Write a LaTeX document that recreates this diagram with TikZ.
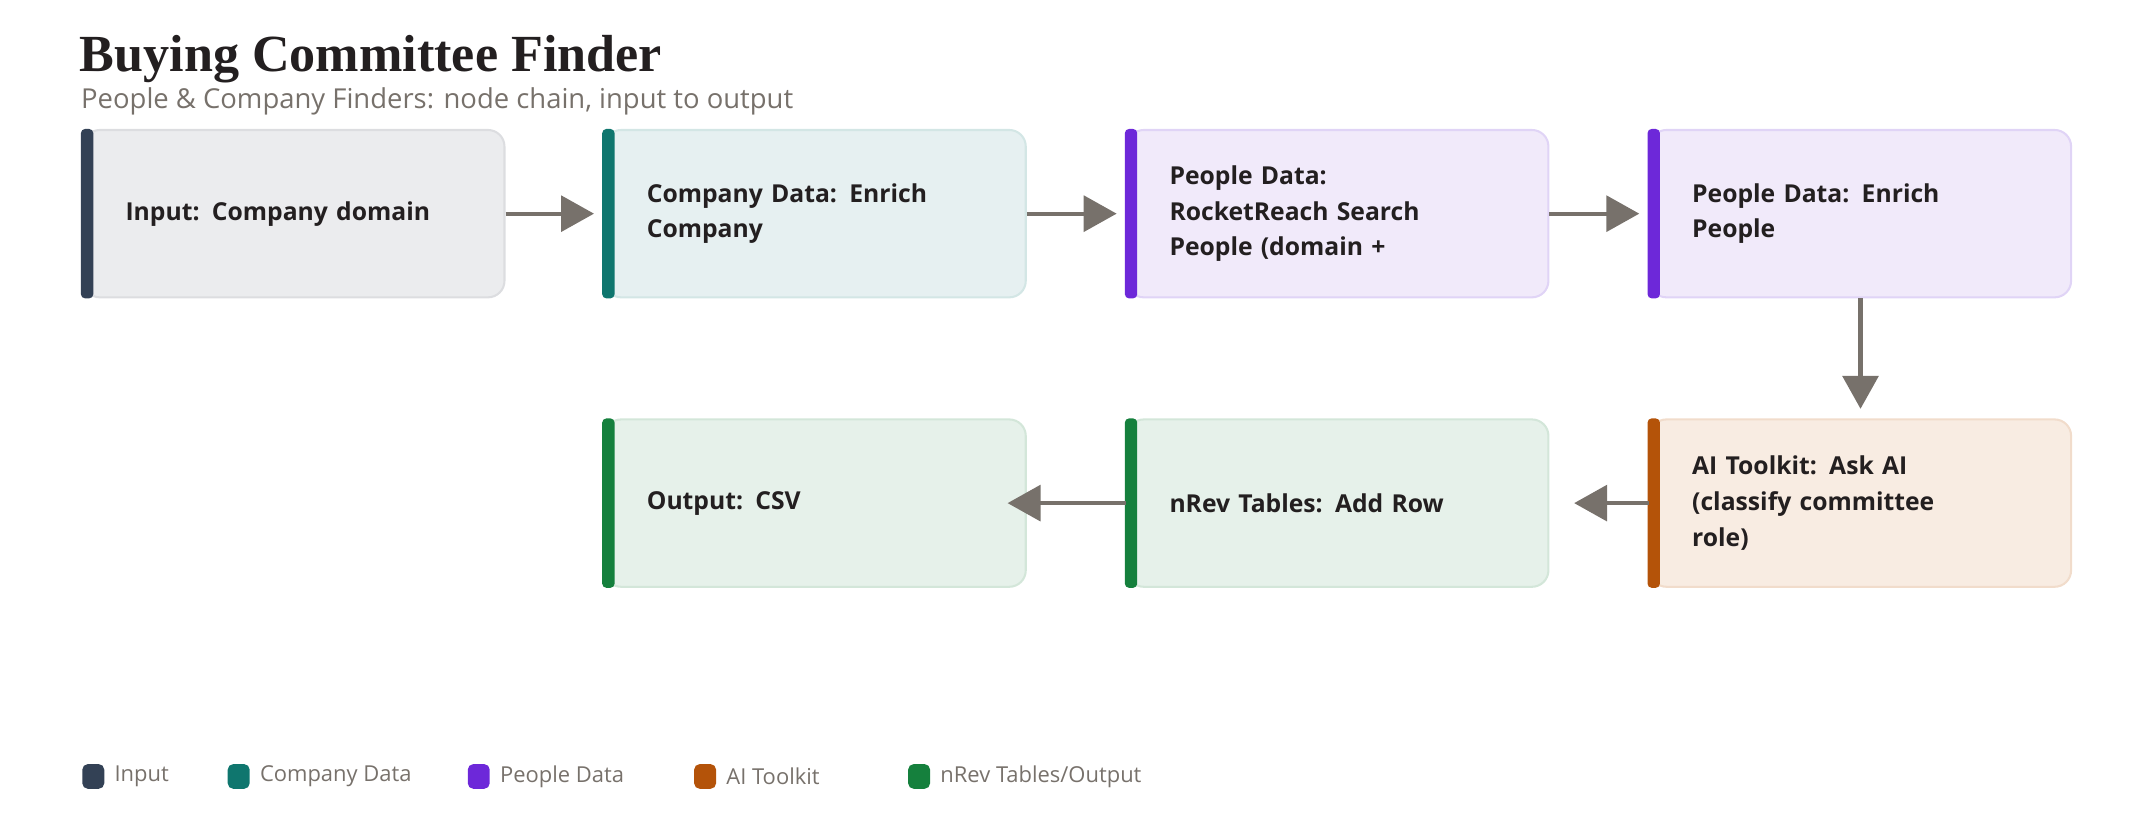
\documentclass[tikz,border=0pt]{standalone}
\usepackage{fontspec}
\setmainfont{Open Sans}
\newfontfamily\ttl{Liberation Serif}
\usetikzlibrary{arrows.meta}
\definecolor{cin}{HTML}{334155}\definecolor{fin}{HTML}{EBECEE}\definecolor{bin}{HTML}{DCDDE0}
\definecolor{cco}{HTML}{0F766E}\definecolor{fco}{HTML}{E6F0F1}\definecolor{bco}{HTML}{D3E6E5}
\definecolor{cpe}{HTML}{6D28D9}\definecolor{fpe}{HTML}{F1EAFA}\definecolor{bpe}{HTML}{E0D4F6}
\definecolor{cai}{HTML}{B45309}\definecolor{fai}{HTML}{F8ECE2}\definecolor{bai}{HTML}{F1DCCB}
\definecolor{cgr}{HTML}{15803D}\definecolor{fgr}{HTML}{E6F1EA}\definecolor{bgr}{HTML}{D3E6D9}
\definecolor{arr}{HTML}{77716B}\definecolor{ink}{HTML}{231F20}\definecolor{sub}{HTML}{77716B}
\tikzset{
 box/.style={draw=#1,line width=1.5pt,rounded corners=12pt,minimum width=307pt,minimum height=122pt,inner sep=0pt},
 lbl/.style={anchor=west,align=left,text width=250pt,font=\fontsize{18}{26}\selectfont\bfseries,text=ink},
 conn/.style={draw=arr,line width=3pt,-{Triangle[length=24pt,width=26pt]}},
 leg/.style={anchor=west,font=\fontsize{16}{18}\selectfont,text=sub}
}
\newcommand{\mybox}[6]{% name, x, y(top), fill, border, bar, text
 \node[box=#5,fill=#4,anchor=north west] (#1) at (#2pt,-#3pt) {};
 \fill[#6,rounded corners=3pt] ([xshift=-1pt]#1.north west) rectangle ([xshift=8pt]#1.south west);
}
\begin{document}
\begin{tikzpicture}[x=1pt,y=1pt]
\useasboundingbox (0,0) rectangle (1560,-600.7);
\node[anchor=base west,inner sep=0,font=\fontsize{38}{40}\selectfont\ttl\bfseries,text=ink] (title) at (58,-52) {Buying Committee Finder};
\node[anchor=base west,inner sep=0,font=\fontsize{20}{22}\selectfont,text=sub] (subtitle) at (59,-79) {People \& Company Finders: node chain, input to output};
\mybox{b1}{60}{94}{fin}{bin}{cin}
\node[lbl] at ([xshift=28pt]b1.west) {Input: Company domain};
\mybox{b2}{440}{94}{fco}{bco}{cco}
\node[lbl] at ([xshift=28pt]b2.west) {Company Data: Enrich\\Company};
\mybox{b3}{821}{94}{fpe}{bpe}{cpe}
\node[lbl] at ([xshift=28pt]b3.west) {People Data:\\RocketReach Search\\People (domain +};
\mybox{b4}{1202}{94}{fpe}{bpe}{cpe}
\node[lbl] at ([xshift=28pt]b4.west) {People Data: Enrich\\People};
\mybox{b5}{1202}{305}{fai}{bai}{cai}
\node[lbl] at ([xshift=28pt]b5.west) {AI Toolkit: Ask AI\\(classify committee\\role)};
\mybox{b6}{821}{305}{fgr}{bgr}{cgr}
\node[lbl] at ([xshift=28pt]b6.west) {nRev Tables: Add Row};
\mybox{b7}{440}{305}{fgr}{bgr}{cgr}
\node[lbl] at ([xshift=28pt]b7.west) {Output: CSV};
\draw[conn] (b1.east) -- ([xshift=-7pt]b2.west);
\draw[conn] (b2.east) -- ([xshift=-7pt]b3.west);
\draw[conn] (b3.east) -- ([xshift=-7pt]b4.west);
\draw[conn] (b4.south) -- ([yshift=7pt]b5.north);
\draw[conn] (b5.west) -- ([xshift=18pt]b6.east);
\draw[conn] (b6.west) -- ([xshift=-14pt]b7.east);
\foreach \x/\c/\t/\n in {60/cin/Input/l1,166/cco/Company Data/l2,341/cpe/People Data/l3,506/cai/AI Toolkit/l4,662/cgr/nRev Tables\slash Output/l5}{
 \fill[\c,rounded corners=4pt] (\x,-557) rectangle (\x+16,-575);
 \node[leg] (\n) at (\x+20,-566) {\t};
}
\end{tikzpicture}
\end{document}
